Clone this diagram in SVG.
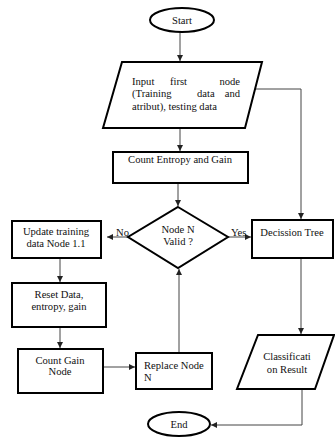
<svg xmlns="http://www.w3.org/2000/svg" width="335" height="441" viewBox="0 0 335 441">
<style>
.n{fill:#fff;stroke:#000;stroke-width:2}
.c{fill:none;stroke:#444;stroke-width:1}
text{font-family:"Liberation Serif","Times New Roman",serif;font-size:10.6px;fill:#111}
.m{text-anchor:middle}
.e{text-anchor:end}
</style>
<defs>
<marker id="a" viewBox="0 0 10 10" refX="10" refY="5" markerWidth="6" markerHeight="6" orient="auto" markerUnits="userSpaceOnUse">
<path d="M0,0L10,5L0,10z" fill="#222"/>
</marker>
</defs>
<rect width="335" height="441" fill="#fff"/>
<g id="connectors">
<path class="c" d="M180,32V61" marker-end="url(#a)"/>
<path class="c" d="M254,89H301V219" marker-end="url(#a)"/>
<path class="c" d="M180,128V151" marker-end="url(#a)"/>
<path class="c" d="M178,183V206" marker-end="url(#a)"/>
<path class="c" d="M128,237H107" marker-end="url(#a)"/>
<path class="c" d="M228,237H251" marker-end="url(#a)"/>
<path class="c" d="M60,258V282" marker-end="url(#a)"/>
<path class="c" d="M60,327V348" marker-end="url(#a)"/>
<path class="c" d="M103,367H135" marker-end="url(#a)"/>
<path class="c" d="M179,353V269" marker-end="url(#a)"/>
<path class="c" d="M301,258V334" marker-end="url(#a)"/>
<path class="c" d="M302,389V425H211" marker-end="url(#a)"/>
<text x="116" y="236">No</text>
<text x="231" y="236">Yes</text>
</g>
<g id="start">
<ellipse class="n" cx="182" cy="20" rx="32" ry="12"/>
<text class="m" x="182" y="24">Start</text>
</g>
<g id="input">
<path class="n" d="M122,62H262L245,128H103Z"/>
<text x="132" y="85">Input</text>
<text x="170" y="85">first</text>
<text class="e" x="240" y="85">node</text>
<text x="132" y="97">(Training</text>
<text x="197" y="97">data</text>
<text class="e" x="240" y="97">and</text>
<text x="132" y="110">atribut), testing data</text>
</g>
<g id="count-entropy">
<rect class="n" x="113" y="152" width="135" height="31"/>
<text class="m" x="180" y="163">Count Entropy and Gain</text>
</g>
<g id="decision">
<path class="n" d="M178,207L228,237L178,268L128,237Z"/>
<text class="m" x="178" y="233">Node N</text>
<text class="m" x="178" y="245">Valid ?</text>
</g>
<g id="update">
<rect class="n" x="12" y="221" width="89" height="37"/>
<text class="m" x="56" y="235">Update training</text>
<text class="m" x="56" y="247">data Node 1.1</text>
</g>
<g id="decision-tree">
<rect class="n" x="252" y="220" width="81" height="38"/>
<text class="m" x="292" y="236">Decission Tree</text>
</g>
<g id="reset">
<rect class="n" x="12" y="283" width="94" height="44"/>
<text class="m" x="59" y="298">Reset Data,</text>
<text class="m" x="59" y="310">entropy, gain</text>
</g>
<g id="count-gain">
<rect class="n" x="18" y="349" width="85" height="44"/>
<text class="m" x="60" y="364">Count Gain</text>
<text class="m" x="60" y="375">Node</text>
</g>
<g id="replace">
<rect class="n" x="136" y="353" width="76" height="36"/>
<text x="144" y="369">Replace Node</text>
<text x="144" y="381">N</text>
</g>
<g id="classification">
<path class="n" d="M258,335H334L315,389H237Z"/>
<text class="m" x="287" y="360">Classificati</text>
<text class="m" x="287" y="373">on Result</text>
</g>
<g id="end">
<ellipse class="n" cx="179" cy="424" rx="31" ry="12"/>
<text class="m" x="179" y="428">End</text>
</g>
</svg>
